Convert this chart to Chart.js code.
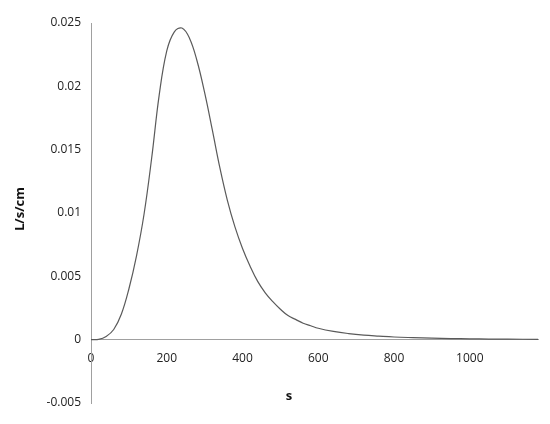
<!DOCTYPE html>
<html>
<head>
<meta charset="utf-8">
<script src="https://cdn.jsdelivr.net/npm/chart.js@4/dist/chart.umd.min.js"></script>
<style>
    html, body { margin: 0; padding: 0; background: #ffffff; }
    #wrap { position: relative; width: 550px; height: 424px; }
</style>
</head>
<body>
<div id="wrap">
    <canvas id="pulseChart" width="550" height="424"></canvas>
</div>
<script>

/*
==========================================================
Data
==========================================================
*/

const seconds = [
    0, 20, 40, 60, 80, 100, 120, 140, 160, 180,
    200, 220, 240, 260, 280, 300, 320, 340, 360, 380,
    400, 420, 440, 460, 480, 500, 520, 540, 560, 580,
    600, 640, 680, 720, 760, 800, 850, 900, 950, 1000,
    1050, 1100, 1180
];

const flow = [
    0, 0.00002, 0.00025, 0.0008, 0.0020, 0.0040, 0.0066, 0.0099, 0.0143, 0.0193,
    0.0228, 0.0243, 0.0246, 0.0238, 0.0220, 0.0195, 0.0166, 0.0136, 0.0110, 0.0089,
    0.0072, 0.0058, 0.0046, 0.0037, 0.0030, 0.0024, 0.0019, 0.0016, 0.0013, 0.0011,
    0.0009, 0.00065, 0.00048, 0.00036, 0.00028, 0.00021, 0.00016, 0.00012, 0.00009, 0.00007,
    0.00005, 0.00004, 0.00003
];

const xTicks = [0, 200, 400, 600, 800, 1000];
const yTicks = [-0.005, 0, 0.005, 0.01, 0.015, 0.02, 0.025];

const xTitle = "s";
const yTitle = "L/s/cm";

/*
==========================================================
Axis titles
==========================================================
*/

const axisTitles = {

    id: "axisTitles",

    afterDraw(chart) {

        const ctx = chart.ctx;

        ctx.save();
        ctx.fillStyle = "#111111";
        ctx.font = "bold 13px 'Open Sans'";
        ctx.textAlign = "center";
        ctx.textBaseline = "middle";

        ctx.fillText(xTitle, 289, 396);

        ctx.translate(20, 209);
        ctx.rotate(-Math.PI / 2);
        ctx.fillText(yTitle, 0, 0);

        ctx.restore();

    }

};

/*
==========================================================
Chart
==========================================================
*/

const points = seconds.map((s, i) => ({ x: s, y: flow[i] }));

new Chart(

    document.getElementById("pulseChart"),

    {

        type: "line",

        data: {

            datasets: [

                {

                    data: points,

                    borderColor: "#5a5a5a",

                    borderWidth: 1.2,

                    pointRadius: 0,

                    fill: false,

                    tension: 0.4

                }

            ]

        },

        options: {

            responsive: false,

            animation: false,

            layout: {

                padding: { left: 0, right: 12, top: 23, bottom: 21 }

            },

            plugins: {

                legend: { display: false },

                tooltip: { enabled: false }

            },

            scales: {

                x: {

                    type: "linear",

                    position: { y: 0 },

                    min: 0,

                    max: 1180,

                    grid: { display: false, drawTicks: false },

                    border: { display: true, color: "#a0a0a0", width: 1 },

                    afterBuildTicks(scale) {

                        scale.ticks = xTicks.map(v => ({ value: v }));

                    },

                    ticks: {

                        padding: 12,

                        color: "#222222",

                        font: { family: "'Open Sans'", size: 12 },

                        maxRotation: 0,

                        autoSkip: false,

                        callback: value => String(value)

                    }

                },

                y: {

                    type: "linear",

                    min: -0.005,

                    max: 0.025,

                    grid: { display: false, drawTicks: false },

                    border: { display: true, color: "#a0a0a0", width: 1 },

                    afterFit(scale) {

                        scale.width = 91;

                    },

                    afterBuildTicks(scale) {

                        scale.ticks = yTicks.map(v => ({ value: v }));

                    },

                    ticks: {

                        padding: 10,

                        color: "#222222",

                        font: { family: "'Open Sans'", size: 12 },

                        callback: value => String(Number(value.toFixed(3)))

                    }

                }

            }

        },

        plugins: [axisTitles]

    }

);

</script>
</body>
</html>
